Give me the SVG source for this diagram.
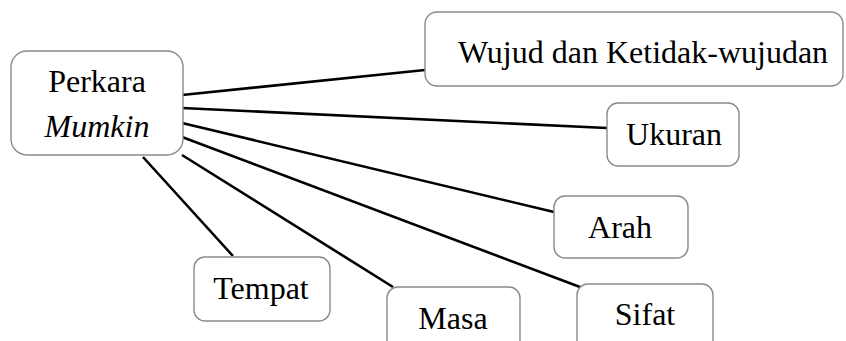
<svg xmlns="http://www.w3.org/2000/svg" width="846" height="341" viewBox="0 0 846 341">
<style>
.box{fill:#fff;stroke:#8a8a8a;stroke-width:1.4}
.t{font-family:"Liberation Serif","Times New Roman",serif;font-size:32px;fill:#000;text-anchor:middle}
.c{stroke:#000;stroke-width:2.6;fill:none}
</style>
<rect width="846" height="341" fill="#fff"/>
<g id="connectors">
<line class="c" x1="182" y1="95" x2="425" y2="70"/>
<line class="c" x1="182" y1="108" x2="607" y2="128"/>
<line class="c" x1="182" y1="123" x2="554" y2="212"/>
<line class="c" x1="182" y1="137" x2="580" y2="287"/>
<line class="c" x1="182" y1="155" x2="393" y2="287"/>
<line class="c" x1="143" y1="157" x2="233" y2="256"/>
</g>
<g id="perkara">
<rect class="box" x="11" y="51" width="172" height="104" rx="16"/>
<text class="t" x="97" y="92">Perkara</text>
<text class="t" x="97" y="137" font-style="italic">Mumkin</text>
</g>
<g id="wujud">
<rect class="box" x="425" y="12" width="418" height="74" rx="12"/>
<text class="t" x="643" y="63">Wujud dan Ketidak-wujudan</text>
</g>
<g id="ukuran">
<rect class="box" x="607" y="103" width="132" height="63" rx="11"/>
<text class="t" x="674" y="145">Ukuran</text>
</g>
<g id="arah">
<rect class="box" x="554" y="196" width="134" height="62" rx="11"/>
<text class="t" x="620" y="238">Arah</text>
</g>
<g id="tempat">
<rect class="box" x="194" y="257" width="136" height="64" rx="11"/>
<text class="t" x="261" y="299">Tempat</text>
</g>
<g id="masa">
<rect class="box" x="387" y="287" width="133" height="70" rx="11"/>
<text class="t" x="453" y="329">Masa</text>
</g>
<g id="sifat">
<rect class="box" x="577" y="284" width="136" height="70" rx="11"/>
<text class="t" x="645" y="325">Sifat</text>
</g>
</svg>
